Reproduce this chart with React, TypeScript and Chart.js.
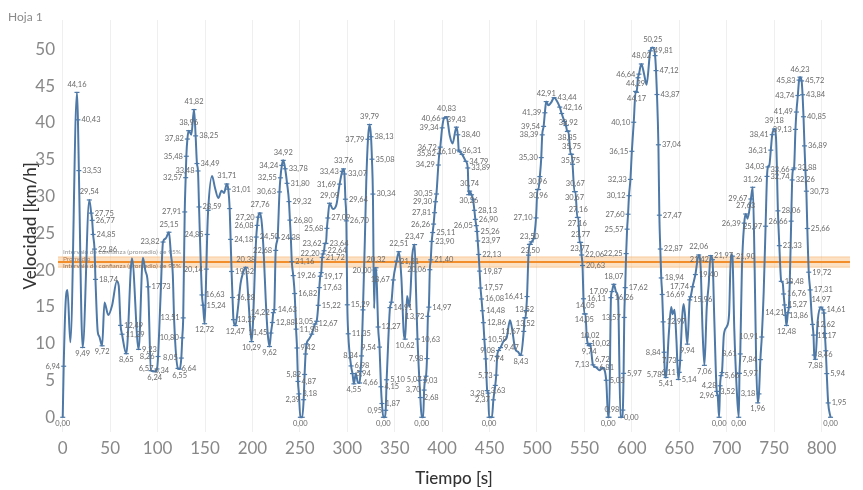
import React, { useEffect, useRef } from "react";
import { Chart, registerables } from "chart.js";

Chart.register(...registerables);

type P = [number, number];

// Labelled readings [time s, speed km/h]
const readingsA: P[] = [
  [0, 0], [1, 6.94], [15, 44.16], [16, 40.43], [17, 33.53], [21, 9.49], [28, 29.54], [30, 27.75],
  [31, 26.77], [32, 24.85], [33.5, 22.86], [34.5, 18.74], [41.5, 9.72], [61, 12.49], [62.5, 11.29],
  [67, 8.65], [80, 9.23], [90, 17.73], [93, 6.34], [97, 6.24], [99.4, 6.57],
];
const readingsB: P[] = [
  [100.5, 8.26], [105.7, 23.82], [112, 25.15], [121.5, 6.64], [123.3, 6.55], [125, 8.05], [126, 10.8],
  [127, 13.51], [128.6, 27.91], [129.6, 32.57], [130.3, 35.48], [131.4, 37.82], [132.8, 38.96],
  [138.4, 41.82], [140.1, 38.25], [141.5, 34.49], [142.6, 33.48], [143.7, 28.59], [146.8, 16.63],
  [147.9, 15.24], [149.6, 12.72], [151.4, 20.14], [152.3, 24.85], [153.3, 28.13], [173, 31.71],
  [174.5, 31.01], [176, 28.37], [177, 24.18], [178, 19.82], [179, 16.28], [180, 13.27], [182, 12.47],
  [193, 20.38], [199, 10.29],
];
const readingsC: P[] = [
  [204, 24.5], [205, 26.08], [206, 27.2], [208, 27.76], [218, 9.62], [219.5, 11.45], [221, 12.88],
  [222, 14.22], [223, 14.63], [224.5, 22.68], [226.5, 24.38], [228.5, 30.63], [229.5, 32.55],
  [231, 34.24], [232.5, 34.92], [234.5, 33.78], [236.5, 31.8], [238.5, 29.32], [239.5, 26.8],
  [240.5, 24.34], [241.5, 21.16], [243, 19.26], [244.5, 16.82], [246, 11.98], [247, 9.42], [248, 4.87],
  [249, 3.18], [250.5, 0], [252.5, 0], [254, 2.39], [255, 5.82], [256, 8.6], [257, 9.96], [262.5, 11.3],
  [266, 12.67], [267.7, 13.05], [269.4, 15.22], [270.5, 17.63], [271.5, 19.17], [272.5, 19.66],
  [273.5, 21.72], [274.5, 22.2], [275.5, 22.64], [276.5, 23.62], [277.5, 23.64], [278.5, 25.68],
  [279.5, 27.09], [281.3, 29.09], [291.9, 31.69], [294.7, 33.43], [296, 33.76], [297, 33.07],
  [298, 29.64], [299, 26.7],
];
const readingsD: P[] = [
  [300, 15.29], [301, 11.35], [304, 6.98], [305.5, 5.94], [307, 4.55], [313, 4.66], [314, 6.24],
  [315, 8.34], [316.5, 14.6], [321.8, 37.79], [323.5, 39.79], [325, 38.13], [326, 35.08], [327, 30.34],
  [329.3, 20.0], [330.3, 20.32], [332.5, 12.27], [334, 9.54], [335.5, 4.15], [336.5, 1.87], [338, 0],
  [339.5, 0], [340.5, 0.95], [341.5, 5.1], [345, 14.91], [346.5, 15.64], [348.5, 18.67], [352, 21.21],
  [354.4, 22.51], [361, 10.62], [371, 23.47], [374, 10.63], [376, 5.03], [377, 2.68], [378.5, 0],
  [380, 0], [381, 3.7], [382, 5.07], [383, 5.58], [384, 7.98], [385, 13.72], [386, 14.97], [387, 20.06],
  [388, 21.4], [389, 23.9], [390, 25.11], [391, 26.26], [392, 27.81], [393, 29.3], [394, 30.35],
  [396, 34.29], [397, 35.82], [398, 36.72], [400, 39.34],
];
const readingsE: P[] = [
  [402, 40.66], [404.7, 40.83], [415, 39.43], [416.5, 38.4], [417.5, 36.31], [418.5, 36.1], [421, 35.73],
  [425, 34.79], [427, 33.89], [428, 30.26], [429, 30.74], [431, 30.24], [432.5, 29.64], [434, 28.13],
  [435, 26.9], [436, 26.05], [436.8, 25.26], [437.5, 23.97], [438.5, 22.13], [439.5, 19.87],
  [440.5, 17.57], [441.5, 16.08], [442.5, 14.48], [443.5, 12.86], [444.5, 10.59], [446, 7.94],
  [447.5, 3.63], [448.5, 3.28], [449.5, 0], [451, 0], [452.5, 0], [454, 2.37], [456, 4.33], [457, 5.73],
  [458, 8.28], [459.5, 9.08], [461.5, 9.47], [483, 8.43], [486, 11.67], [487, 13.52], [487.8, 13.52],
  [488.6, 14.5], [489.5, 16.41], [491, 22.04], [492, 23.5], [493, 23.5], [494, 23.84], [496.5, 24.29],
  [499, 27.1],
];
const readingsF: P[] = [
  [500.5, 30.96], [501.5, 30.96], [503, 32.72], [504.5, 35.3], [505.5, 38.39], [507, 39.54],
  [508.3, 41.39], [509.7, 42.91], [518, 43.44], [524, 42.16], [526, 41.29], [529, 40.2], [530.5, 39.66],
  [532, 38.85], [533, 38.92], [535.5, 35.75], [536.5, 35.75], [537.5, 34.39], [539.5, 30.67],
  [540.5, 30.67], [542.5, 27.16], [543.5, 27.16], [545, 23.77], [546, 23.77], [547, 22.06], [548, 20.63],
  [549, 16.11], [550, 14.05], [551, 14.05], [552.5, 10.9], [553.5, 10.02], [555, 9.74], [556, 10.02],
  [559, 7.13], [562, 6.81], [569, 6.72], [573, 5.03], [575, 0], [576, 0], [578, 16.26], [579, 17.09],
  [581, 18.07], [588, 0], [589.5, 0], [590.5, 0.98], [591.3, 5.97], [592, 13.57], [593, 17.62],
  [594, 22.25], [595, 25.57], [596, 27.6], [597, 30.12], [598.5, 32.33],
];
const readingsG: P[] = [
  [600, 36.15], [602, 40.1], [604, 44.29], [605, 44.17], [606.5, 46.15], [607.5, 46.64], [610, 48.02],
  [619.5, 49.81], [622, 50.25], [624.5, 49.16], [625.5, 47.12], [626.5, 43.87], [628, 37.04],
  [629, 27.47], [630, 22.87], [631, 18.94], [632, 16.69], [633, 12.97], [634, 8.84], [635, 5.78],
  [636, 5.41], [649, 5.14], [650, 6.11], [651, 7.73], [658.5, 9.94], [661, 15.96], [662, 16.38],
  [664, 17.74], [667, 19.4], [670.5, 22.06], [676.5, 7.06], [683, 21.97], [685, 21.42], [689.5, 3.52],
  [690.5, 2.96], [692, 0], [693, 4.28], [694, 5.66], [695, 6.08],
];
const readingsH: P[] = [
  [706, 21.9], [712.7, 0], [713.5, 5.97], [714.3, 8.61], [718.5, 26.39], [720, 27.63], [725.5, 29.67],
  [727.5, 31.26], [732.7, 1.96], [734, 3.18], [735.5, 7.84], [737, 10.91], [741, 25.97], [742.5, 32.74],
  [743.5, 34.03], [746.5, 36.31], [748, 38.41], [750.3, 39.18], [754, 28.06], [755.5, 23.33],
  [757.5, 18.48], [760, 16.76], [761, 15.27], [762, 13.86], [763, 12.48], [764.5, 14.21], [765.5, 14.92],
  [766.5, 18.34], [768, 26.66], [769, 32.26], [770, 33.66], [771, 33.88], [772.5, 39.13], [773.5, 41.49],
  [775, 43.74], [776.3, 45.83], [777.3, 46.23], [779, 45.72], [780, 43.84], [781, 40.85], [782, 36.89],
  [783, 33.56], [784, 30.73], [785, 25.66], [786.5, 19.72], [788, 17.31], [790.5, 12.62], [791.5, 11.17],
  [792.3, 8.46], [793.5, 7.88], [799.4, 14.97], [801.5, 14.61], [802.5, 14.17], [803.5, 11.39],
  [804.5, 9.04], [805.5, 5.94], [807, 1.95], [809.5, 0],
];

// Unlabelled samples
const traceA: P[] = [
  [3, 15.5], [5, 17.3], [8, 10.2], [36.9, 11.6], [38.5, 11.0], [44, 15.6], [48, 13.9], [52, 15.2],
  [57, 18.5], [59, 17.9], [73, 21.6], [84.5, 21.7], [87, 20.0],
];
const traceB: P[] = [
  [103, 16.0], [108.5, 24.3], [114, 22.2], [116, 19.5], [117.5, 13.0], [135.6, 38.4], [157.4, 32.8],
  [160.5, 31.2], [164, 29.8], [167.5, 30.8], [170, 30.5], [184.5, 14.6], [187.5, 18.2], [190, 19.6],
  [196, 15.5],
];
const traceC: P[] = [[210, 26.2], [212, 22.0], [214, 16.0], [216, 11.5], [259.5, 10.6], [284.8, 28.3], [288.5, 28.9]];
const traceD: P[] = [
  [309, 6.0], [311, 4.8], [318.5, 24.0], [320, 32.0], [328.3, 14.8], [331.3, 17.5], [343, 9.8],
  [357, 19.0], [359.5, 11.5], [363, 16.5], [365.5, 15.0], [368.5, 22.0], [372.5, 17.0],
];
const traceE: P[] = [[408, 38.3], [411, 37.2], [465, 10.4], [468, 10.8], [471.5, 13.2], [473.5, 12.2], [477, 9.3], [480, 8.9]];
const traceF: P[] = [[512, 42.4], [515, 42.8], [521, 43.0], [566, 6.4], [583.5, 17.0], [585.5, 16.2]];
const traceG: P[] = [
  [613, 46.6], [615.5, 45.2], [639, 11.4], [641.5, 15.0], [643, 14.0], [645, 14.6], [647, 10.5],
  [653, 13.5], [654.5, 15.4], [656, 14.0], [672.5, 20.5], [674.5, 12.0], [679, 15.0], [681, 18.0],
  [687, 13.0], [697, 11.2], [700, 12.3],
];
const traceH: P[] = [
  [702.5, 14.0], [704.5, 22.2], [708, 12.0], [710.5, 4.0], [716, 20.0], [722, 27.0], [729.5, 20.0],
  [731, 8.0], [739, 17.0], [745, 34.3], [752, 38.0], [759, 18.3], [789.5, 14.0], [796, 13.2],
];

const xTickValues = [0, 50, 100, 150, 200, 250, 300, 350, 400, 450, 500, 550, 600, 650, 700, 750, 800];
const yTickValues = [0, 5, 10, 15, 20, 25, 30, 35, 40, 45, 50];
const meanSpeed = 21.1;
const ciLower = 20.4;
const ciUpper = 21.8;

const sheetTitle = "Hoja 1";
const xTitle = "Tiempo [s]";
const yTitle = "Velocidad [km/h]";
const bandText = "Intervalo de confianza (promedio) de 95%";
const meanText = "Promedio";

const FONT = "Lato, 'Open Sans', 'DejaVu Sans', sans-serif";
const fmt = (v: number) => v.toFixed(2).replace(".", ",");

export default function App() {
  const ref = useRef<HTMLCanvasElement>(null);

  useEffect(() => {
    document.body.style.margin = "0";
    const readings = [
      ...readingsA, ...readingsB, ...readingsC, ...readingsD,
      ...readingsE, ...readingsF, ...readingsG, ...readingsH,
    ];
    const trace = [...traceA, ...traceB, ...traceC, ...traceD, ...traceE, ...traceF, ...traceG, ...traceH];
    const pts = [
      ...readings.map(([x, y]) => ({ x, y, lab: true })),
      ...trace.map(([x, y]) => ({ x, y, lab: false })),
    ].sort((a, b) => a.x - b.x);

    const headerPlugin = {
      id: "header",
      afterDraw(chart: any) {
        const ctx = chart.ctx;
        ctx.save();
        ctx.font = `12px ${FONT}`;
        ctx.fillStyle = "#8a8a8a";
        ctx.textBaseline = "middle";
        ctx.fillText(sheetTitle, 8, 17);
        ctx.restore();
      },
    };

    const bandPlugin = {
      id: "band",
      beforeDatasetsDraw(chart: any) {
        const { ctx, chartArea: a, scales } = chart;
        const y = scales.y;
        const yHi = y.getPixelForValue(ciUpper);
        const yLo = y.getPixelForValue(ciLower);
        const yM = y.getPixelForValue(meanSpeed);
        ctx.save();
        ctx.fillStyle = "rgba(250, 200, 150, 0.55)";
        ctx.fillRect(a.left, yHi, a.right - a.left, yLo - yHi);
        ctx.strokeStyle = "rgba(242, 142, 43, 0.35)";
        ctx.lineWidth = 1;
        ctx.beginPath();
        ctx.moveTo(a.left, yHi);
        ctx.lineTo(a.right, yHi);
        ctx.moveTo(a.left, yLo);
        ctx.lineTo(a.right, yLo);
        ctx.stroke();
        ctx.strokeStyle = "#f28e2b";
        ctx.lineWidth = 2;
        ctx.beginPath();
        ctx.moveTo(a.left, yM);
        ctx.lineTo(a.right, yM);
        ctx.stroke();
        ctx.font = `6.5px ${FONT}`;
        ctx.textBaseline = "middle";
        ctx.fillStyle = "rgba(120,120,120,0.8)";
        ctx.fillText(bandText, a.left + 5, yHi - 5);
        ctx.fillStyle = "rgba(170,110,60,0.85)";
        ctx.fillText(meanText, a.left + 5, yM - 3.5);
        ctx.fillStyle = "rgba(140,100,70,0.9)";
        ctx.fillText(bandText, a.left + 5, yM + 4);
        ctx.restore();
      },
    };

    const labelPlugin = {
      id: "pointLabels",
      afterDatasetsDraw(chart: any) {
        const meta = chart.getDatasetMeta(0);
        const ctx = chart.ctx;
        ctx.save();
        ctx.font = `7.5px ${FONT}`;
        ctx.fillStyle = "#6a6a6a";
        ctx.textBaseline = "middle";
        const H = 8;
        const boxes: { x1: number; y1: number; x2: number; y2: number }[] = [];
        const overlaps = (b: any) =>
          boxes.some((o) => b.x1 < o.x2 - 1 && b.x2 > o.x1 + 1 && b.y1 < o.y2 - 1.5 && b.y2 > o.y1 + 1.5);
        const kind = (i: number) => {
          const v = pts[i].y;
          const pv = i > 0 ? pts[i - 1].y : v;
          const nv = i < pts.length - 1 ? pts[i + 1].y : v;
          if (v >= pv && v >= nv && v > 0) return "max";
          if (v <= pv && v <= nv) return "min";
          return nv > pv ? "up" : "down";
        };
        const idx = pts.map((_, i) => i).filter((i) => pts[i].lab);
        const rank = (i: number) => (kind(i) === "max" || kind(i) === "min" ? 0 : 1);
        idx.sort((a, b) => rank(a) - rank(b) || a - b);
        for (const i of idx) {
          const el = meta.data[i];
          const px = el.x;
          const py = el.y;
          const text = fmt(pts[i].y);
          const w = ctx.measureText(text).width;
          const k = kind(i);
          const cands =
            k === "max" ? ["top", "right", "left"] :
            k === "min" ? ["bottom", "right", "left"] :
            k === "up" ? ["left", "right"] : ["right", "left"];
          for (const c of cands) {
            let x1 = 0;
            let y1 = 0;
            if (c === "top") { x1 = px - w / 2; y1 = py - 4 - H; }
            else if (c === "bottom") { x1 = px - w / 2; y1 = py + 2; }
            else if (c === "right") { x1 = px + 3.5; y1 = py - H / 2; }
            else { x1 = px - 3.5 - w; y1 = py - H / 2; }
            const b = { x1, y1, x2: x1 + w, y2: y1 + H };
            if (!overlaps(b)) {
              boxes.push(b);
              ctx.fillText(text, x1, y1 + H / 2);
              break;
            }
          }
        }
        ctx.restore();
      },
    };

    const chart = new Chart(ref.current as HTMLCanvasElement, {
      type: "line",
      data: {
        datasets: [
          {
            data: pts as any,
            borderColor: "#4e79a7",
            backgroundColor: "#4e79a7",
            borderWidth: 2,
            cubicInterpolationMode: "monotone",
            pointStyle: "line",
            pointRadius: pts.map((p) => (p.lab ? 2.5 : 0)) as any,
            pointBorderWidth: 1.2,
            pointBorderColor: "#4e79a7",
          } as any,
        ],
      },
      options: {
        responsive: false,
        maintainAspectRatio: false,
        animation: false,
        layout: { padding: { top: 20, right: 13, left: 0, bottom: 0 } },
        plugins: { legend: { display: false }, tooltip: { enabled: false } },
        scales: {
          x: {
            type: "linear",
            min: -5,
            max: 830,
            afterBuildTicks: (axis: any) => {
              axis.ticks = xTickValues.map((v) => ({ value: v }));
            },
            afterFit: (axis: any) => {
              axis.height = 58;
            },
            grid: { color: "#efefef", drawTicks: false },
            border: { display: false },
            ticks: { font: { size: 17, family: FONT }, color: "#888", padding: 6, maxRotation: 0, autoSkip: false },
            title: {
              display: true,
              text: xTitle,
              font: { size: 17, family: FONT, weight: "500" as any },
              color: "#333",
              padding: { top: 0, bottom: 1.5 },
            },
          },
          y: {
            type: "linear",
            min: -2,
            max: 54,
            afterBuildTicks: (axis: any) => {
              axis.ticks = yTickValues.map((v) => ({ value: v }));
            },
            afterFit: (axis: any) => {
              axis.width = 58;
            },
            grid: { display: false, drawTicks: false },
            border: { display: false },
            ticks: { font: { size: 17, family: FONT }, color: "#888", padding: 3, autoSkip: false },
            title: {
              display: true,
              text: yTitle,
              font: { size: 17, family: FONT, weight: "500" as any },
              color: "#333",
              padding: { top: 20, bottom: 0 },
            },
          },
        },
      },
      plugins: [bandPlugin, labelPlugin, headerPlugin],
    });
    return () => chart.destroy();
  }, []);

  return (
    <div style={{ width: 863, height: 490 }}>
      <canvas ref={ref} width={863} height={490} style={{ display: "block", width: 863, height: 490 }} />
    </div>
  );
}
